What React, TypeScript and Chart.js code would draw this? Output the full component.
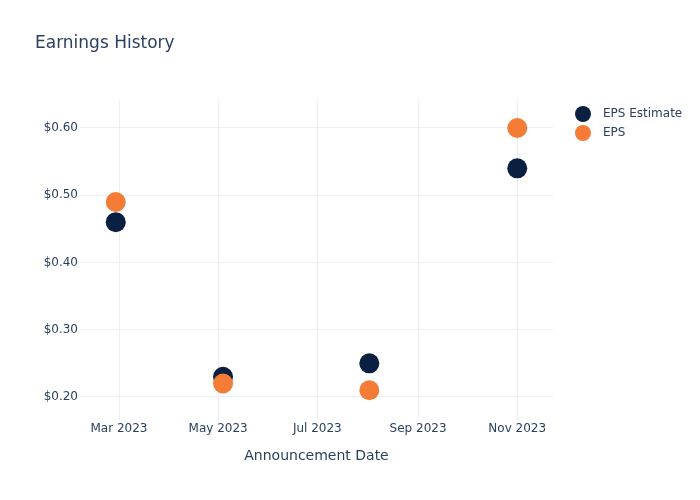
import React, { useEffect, useRef } from "react";
import { Chart, registerables } from "chart.js";

Chart.register(...registerables);

const announcementDates = ["2023-02-27", "2023-05-04", "2023-08-02", "2023-11-01"];
const epsEstimate = [0.46, 0.23, 0.25, 0.54];
const epsActual = [0.49, 0.22, 0.21, 0.6];
const xTickDates = ["2023-03-01", "2023-05-01", "2023-07-01", "2023-09-01", "2023-11-01"];
const xTickLabels = ["Mar 2023", "May 2023", "Jul 2023", "Sep 2023", "Nov 2023"];
const yTickValues = [0.2, 0.3, 0.4, 0.5, 0.6];
const xRange = ["2023-02-05", "2023-11-23"];
const yRange = [0.1658, 0.6416];

const ts = (d: string) => Date.parse(d + "T00:00:00Z");

const FONT = "'DejaVu Sans', sans-serif";
const TEXT = "#2a3f5f";
const GRID = "#ebf0f8";
const NAVY = "#0b1f41";
const ORANGE = "#f47c36";

export default function App() {
  const ref = useRef<HTMLCanvasElement | null>(null);

  useEffect(() => {
    document.body.style.margin = "0";
    const canvas = ref.current;
    if (!canvas) return;

    const overlay = {
      id: "overlay",
      afterDraw(chart: any) {
        const ctx = chart.ctx;
        ctx.save();
        ctx.fillStyle = TEXT;
        ctx.font = `17px ${FONT}`;
        ctx.textBaseline = "middle";
        ctx.textAlign = "left";
        ctx.fillText("Earnings History", 35, 44);
        const items = chart.data.datasets.map((d: any) => ({ label: d.label, color: d.backgroundColor, legendIndex: d.legendIndex }));
        items.sort((a: any, b: any) => a.legendIndex - b.legendIndex);
        items.forEach((it: any, i: number) => {
          const y = 114 + i * 19;
          ctx.beginPath();
          ctx.fillStyle = it.color;
          ctx.arc(583, y, 8, 0, Math.PI * 2);
          ctx.fill();
          ctx.fillStyle = TEXT;
          ctx.font = `12px ${FONT}`;
          ctx.fillText(it.label, 603, y);
        });
        ctx.restore();
      },
    };

    const chart = new Chart(canvas, {
      type: "scatter",
      data: {
        datasets: [
          {
            label: "EPS Estimate",
            legendIndex: 0,
            order: 1,
            data: announcementDates.map((d, i) => ({ x: ts(d), y: epsEstimate[i] })),
            backgroundColor: NAVY,
            borderWidth: 0,
            pointRadius: 10,
          } as any,
          {
            label: "EPS",
            legendIndex: 1,
            order: 0,
            data: announcementDates.map((d, i) => ({ x: ts(d), y: epsActual[i] })),
            backgroundColor: ORANGE,
            borderWidth: 0,
            pointRadius: 10,
          } as any,
        ],
      },
      options: {
        animation: false,
        responsive: false,
        maintainAspectRatio: false,
        layout: { padding: { left: 0, top: 100, right: 147, bottom: 0 } },
        plugins: { legend: { display: false }, tooltip: { enabled: false }, title: { display: false } },
        scales: {
          x: {
            type: "linear",
            min: ts(xRange[0]),
            max: ts(xRange[1]),
            border: { display: false },
            grid: { color: GRID, lineWidth: 1, drawTicks: false },
            afterBuildTicks: (scale: any) => {
              scale.ticks = xTickDates.map((d) => ({ value: ts(d) }));
            },
            afterFit: (scale: any) => {
              scale.height = 80;
            },
            ticks: {
              color: TEXT,
              font: { family: FONT, size: 12 },
              padding: 2,
              maxRotation: 0,
              autoSkip: false,
              callback: (v: any) => {
                const i = xTickDates.findIndex((d) => ts(d) === v);
                return i >= 0 ? xTickLabels[i] : "";
              },
            },
            title: {
              display: true,
              text: "Announcement Date",
              color: TEXT,
              font: { family: FONT, size: 14 },
              padding: { top: 0, bottom: 35 },
            },
          },
          y: {
            type: "linear",
            min: yRange[0],
            max: yRange[1],
            border: { display: false },
            grid: { color: GRID, lineWidth: 1, drawTicks: false },
            afterBuildTicks: (scale: any) => {
              scale.ticks = yTickValues.map((v) => ({ value: v }));
            },
            afterFit: (scale: any) => {
              scale.width = 80;
            },
            ticks: {
              color: TEXT,
              font: { family: FONT, size: 12 },
              padding: 2,
              callback: (v: any) => "$" + Number(v).toFixed(2),
            },
          },
        },
      } as any,
      plugins: [overlay],
    });
    return () => chart.destroy();
  }, []);

  return (
    <div style={{ width: 700, height: 500, background: "#fff" }}>
      <canvas ref={ref} width={700} height={500} style={{ display: "block", width: 700, height: 500 }} />
    </div>
  );
}
